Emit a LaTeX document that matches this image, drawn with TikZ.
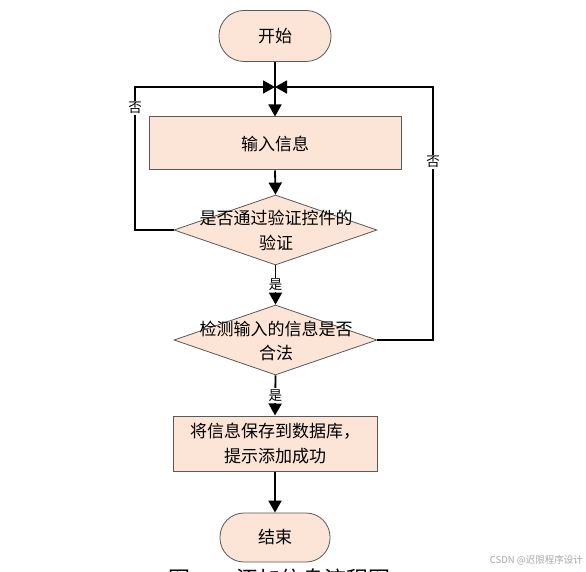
\documentclass[tikz,border=0pt]{standalone}
\usepackage{fontspec}
\setmainfont{Noto Sans CJK SC}
\usetikzlibrary{arrows.meta,shapes.geometric}
\definecolor{peach}{HTML}{FCE4D6}
\definecolor{edgegray}{HTML}{595959}
\newcommand\fsmain{\fontsize{17}{24.5}\selectfont}
\newcommand\fslab{\fontsize{13.5}{15}\selectfont}
\begin{document}
\begin{tikzpicture}[x=1pt,y=-1pt,
  term/.style={draw=edgegray,fill=peach,line width=0.8pt,rounded corners=25pt,minimum width=112pt,minimum height=51pt,inner sep=0pt,font=\fsmain},
  procbox/.style={draw=edgegray,fill=peach,line width=1pt,inner sep=0pt,align=center,font=\fsmain},
  dia/.style={diamond,draw=edgegray,fill=peach,line width=0.8pt,inner sep=0pt,minimum width=203pt,minimum height=70pt},
  txt/.style={align=center,font=\fsmain,inner sep=0pt},
  flow/.style={line width=1.8pt,-{Triangle[length=12pt,width=13pt]}},
  lab/.style={fill=white,inner sep=1.5pt,font=\fslab,rotate=0}]
\useasboundingbox (0,0) rectangle (586,572);
\clip (0,0) rectangle (586,572);
% nodes
\node[term] (start) at (275,36) {开始};
\node[procbox,minimum width=252pt,minimum height=53pt] (b1) at (275,143.5) {输入信息};
\node[dia] (d1) at (275.5,230) {};
\node[txt] (d1t) at (276,230.5) {是否通过验证控件的\\验证};
\node[dia] (d2) at (275.5,340) {};
\node[txt] (d2t) at (276,341) {检测输入的信息是否\\合法};
\node[procbox,minimum width=204pt,minimum height=55pt] (b2) at (275,443.5) {将信息保存到数据库，\\提示添加成功};
\node[term,minimum width=110pt,minimum height=49pt,rounded corners=24pt] (end) at (275,537.5) {结束};
\coordinate (j) at (275,87);
\coordinate (L1) at (135,230);
\coordinate (L2) at (135,87);
\coordinate (R1) at (433,340);
\coordinate (R2) at (433,87);
% connectors
\draw[flow] (start.south) -- (b1.north);
\draw[flow] (b1.south) -- (d1.north);
\draw[flow] (d1.south) -- node[lab]{是} (d2.north);
\draw[flow] (d2.south) -- node[lab]{是} (b2.north);
\draw[flow] (b2.south) -- (end.north);
\draw[flow] (d1.west) -- (L1) -- (L2) -- (j);
\draw[flow] (d2.east) -- (R1) -- (R2) -- (j);
\node[lab] (no1) at (135,108) {否};
\node[lab] (no2) at (433,162) {否};
% caption (clipped) and watermark
\node[font=\fontsize{22}{22}\selectfont,anchor=base,inner sep=0pt] (cap1) at (179,587) {图};
\node[font=\fontsize{22}{22}\selectfont,anchor=base west,inner sep=0pt] (cap2) at (236,587) {添加信息流程图};
\node[font=\fontsize{9.5}{10}\selectfont,text=black!35,anchor=east,inner sep=0pt] (wm) at (583,560) {CSDN @迟限程序设计};
\end{tikzpicture}
\end{document}
